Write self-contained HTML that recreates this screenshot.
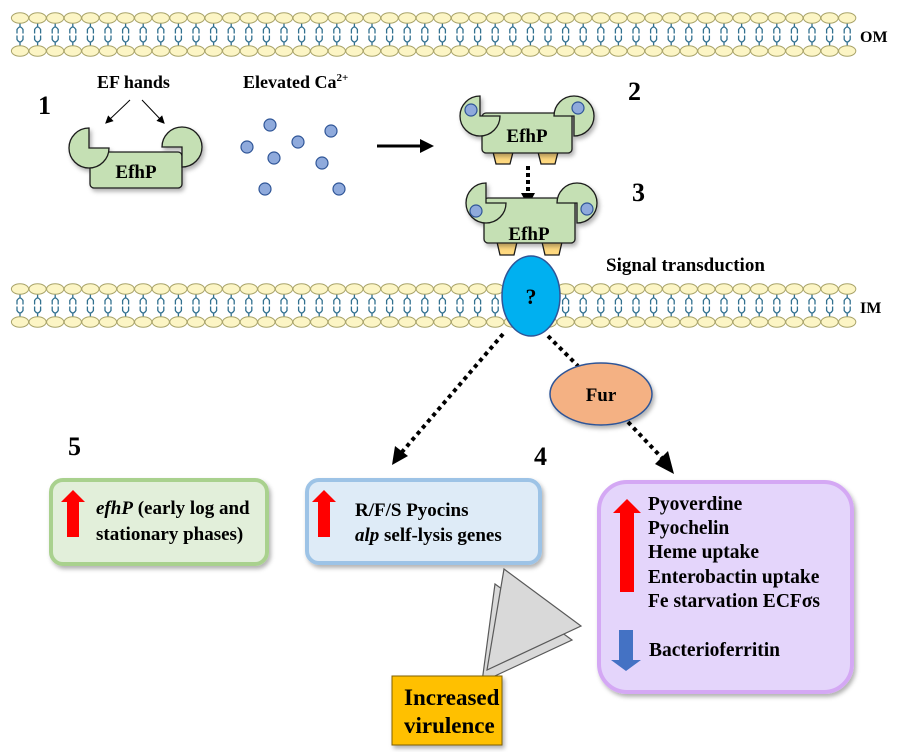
<!DOCTYPE html>
<html><head><meta charset="utf-8"><style>
html,body{margin:0;padding:0;background:#fff;}
svg{display:block;font-family:"Liberation Serif",serif;font-weight:bold;}
</style></head><body>
<svg width="900" height="752" viewBox="0 0 900 752" xmlns="http://www.w3.org/2000/svg">
<defs>
<filter id="sh" x="-10%" y="-10%" width="130%" height="130%"><feDropShadow dx="2" dy="3" stdDeviation="2" flood-color="#000" flood-opacity="0.3"/></filter>
<marker id="ah" markerWidth="8" markerHeight="8" refX="4" refY="4" orient="auto" markerUnits="userSpaceOnUse" viewBox="0 0 8 8"><path d="M0 0 L8 4 L0 8z" fill="#000"/></marker>
</defs>

<g id="heads"></g>
<text x="860" y="42" font-size="16">OM</text>
<text x="860" y="313" font-size="16">IM</text>

<g font-size="26"><text x="38" y="114">1</text><text x="628" y="100">2</text><text x="632" y="201">3</text><text x="534" y="465">4</text><text x="68" y="455">5</text></g>
<text x="97" y="88" font-size="18">EF hands</text>
<text x="243" y="88" font-size="18">Elevated Ca<tspan font-size="11" dy="-7">2+</tspan></text>
<line x1="130" y1="100" x2="108" y2="121" stroke="#000" stroke-width="1" marker-end="url(#ah)"/>
<line x1="142" y1="100" x2="162" y2="121" stroke="#000" stroke-width="1" marker-end="url(#ah)"/>

<g fill="#8faadc" stroke="#2f5597" stroke-width="1.2">
<circle cx="270" cy="125" r="6"/><circle cx="247" cy="147" r="6"/><circle cx="274" cy="158" r="6"/><circle cx="298" cy="142" r="6"/><circle cx="331" cy="131" r="6"/><circle cx="322" cy="163" r="6"/><circle cx="265" cy="189" r="6"/><circle cx="339" cy="189" r="6"/>
</g>
<line x1="377" y1="146" x2="422" y2="146" stroke="#000" stroke-width="3"/>
<path d="M420 139 L434 146 L420 153z" fill="#000"/>

<g stroke="#1a1a1a" stroke-width="1.3" fill="#c5e0b4" filter="url(#sh)">
<rect x="90" y="152" width="92" height="36" rx="4"/>
<path d="M89 148 L89 128 A20 20 0 1 0 109 148 Z"/>
<path d="M182 147 L162 147 A20 20 0 1 1 182 167 Z"/>
</g>
<text x="136" y="178" font-size="19" text-anchor="middle">EfhP</text>

<g stroke="#1a1a1a" stroke-width="1.3">
<path d="M493 152 H513 L510 164 H496Z M538 152 H558 L555 164 H541Z" fill="#ffd97f"/>
</g>
<g stroke="#1a1a1a" stroke-width="1.3" fill="#c5e0b4" filter="url(#sh)">
<rect x="482" y="113" width="90" height="40" rx="4"/>
<path d="M480 116 L480 96 A20 20 0 1 0 500 116 Z"/>
<path d="M574 116 L554 116 A20 20 0 1 1 574 136 Z"/>
</g>
<g fill="#8faadc" stroke="#2f5597" stroke-width="1.2"><circle cx="471" cy="110" r="6"/><circle cx="578" cy="108" r="6"/></g>
<text x="527" y="142" font-size="19" text-anchor="middle">EfhP</text>
<line x1="528" y1="166" x2="528" y2="196" stroke="#000" stroke-width="4" stroke-dasharray="4,3"/>
<path d="M521 193 L535 193 L528 206z" fill="#000"/>

<g stroke="#1a1a1a" stroke-width="1.3">
<path d="M497 242 H517 L514 255 H500Z M542 242 H562 L559 255 H545Z" fill="#ffd97f"/>
</g>
<g stroke="#1a1a1a" stroke-width="1.3" fill="#c5e0b4" filter="url(#sh)">
<rect x="484" y="198" width="91" height="45" rx="4"/>
<path d="M486 203 L486 183 A20 20 0 1 0 506 203 Z"/>
<path d="M577 203 L557 203 A20 20 0 1 1 577 223 Z"/>
</g>
<g fill="#8faadc" stroke="#2f5597" stroke-width="1.2"><circle cx="476" cy="211" r="6"/><circle cx="587" cy="209" r="6"/></g>
<text x="529" y="240" font-size="19" text-anchor="middle">EfhP</text>
<text x="606" y="271" font-size="19">Signal transduction</text>

<ellipse cx="531" cy="296" rx="29" ry="40" fill="#00b0f0" stroke="#2f5597" stroke-width="1.5"/>
<text x="531" y="304" font-size="22" text-anchor="middle">?</text>

<g stroke="#000" stroke-width="4" stroke-dasharray="4,4">
<line x1="503" y1="334" x2="402" y2="452"/>
<line x1="548" y1="336" x2="578" y2="366"/>
<line x1="628" y1="422" x2="662" y2="458"/>
</g>
<path d="M392 465 L395 446 L408 456z" fill="#000"/>
<path d="M674 474 L655 464 L668 451z" fill="#000"/>

<ellipse cx="601" cy="394" rx="51" ry="31" fill="#f4b183" stroke="#2f5597" stroke-width="1.5" filter="url(#sh)"/>
<text x="601" y="401" font-size="19" text-anchor="middle">Fur</text>

<rect x="51" y="480" width="216" height="84" rx="12" fill="#e2efda" stroke="#a9d18e" stroke-width="4" filter="url(#sh)"/>
<path d="M67 537 V502 H61 L73 490 L85 502 H79 V537 Z" fill="#ff0000"/>
<text x="96" y="514" font-size="19"><tspan font-style="italic">efhP</tspan> (early log and</text>
<text x="96" y="540" font-size="19">stationary phases)</text>

<rect x="307" y="480" width="233" height="83" rx="12" fill="#deebf7" stroke="#9dc3e6" stroke-width="4" filter="url(#sh)"/>
<path d="M318 537 V502 H312 L324 490 L336 502 H330 V537 Z" fill="#ff0000"/>
<text x="355" y="516" font-size="19">R/F/S Pyocins</text>
<text x="355" y="541" font-size="19"><tspan font-style="italic">alp</tspan> self-lysis genes</text>

<rect x="599" y="482" width="253" height="210" rx="28" fill="#e4d5fb" stroke="#d4a8f4" stroke-width="4" filter="url(#sh)"/>
<path d="M620 592 V513 H613 L627 499 L641 513 H634 V592 Z" fill="#ff0000"/>
<path d="M619 630 V660 H611 L626 671 L641 660 H633 V630 Z" fill="#4472c4"/>
<g font-size="19.5">
<text x="648" y="510">Pyoverdine</text>
<text x="648" y="534">Pyochelin</text>
<text x="648" y="558">Heme uptake</text>
<text x="648" y="583">Enterobactin uptake</text>
<text x="648" y="607">Fe starvation ECFσs</text>
<text x="649" y="656">Bacterioferritin</text>
</g>

<g fill="#d9d9d9" stroke="#595959" stroke-width="1.2">
<path d="M495 584 L572 640 L482 682 Z"/>
<path d="M504 569 L581 626 L487 670 Z"/>
</g>

<rect x="392" y="676" width="110" height="69" fill="#ffc000" stroke="#7f6000" stroke-width="1" filter="url(#sh)"/>
<text x="404" y="705" font-size="23">Increased</text>
<text x="404" y="733" font-size="23">virulence</text>
</svg>
<script>
(function(){
var ns="http://www.w3.org/2000/svg",g=document.getElementById('heads');
function el(t,a){var e=document.createElementNS(ns,t);for(var k in a)e.setAttribute(k,a[k]);g.appendChild(e);}
function mem(y1,y2){
 var d="";
 for(var x=20;x<856;x+=17.6){
  var m=(y1+y2)/2;
  d+="M"+x+" "+(y1+4)+"V"+(m-8)+" M"+(x-3)+" "+(m-1)+"V"+(m-5)+"Q"+x+" "+(m-10)+" "+(x+3)+" "+(m-5)+"V"+(m-1)+
     " M"+(x-3)+" "+(m+1)+"V"+(m+5)+"Q"+x+" "+(m+10)+" "+(x+3)+" "+(m+5)+"V"+(m+1)+" M"+x+" "+(m+8)+"V"+(y2-4)+" ";
 }
 el('path',{d:d,stroke:'#31708f','stroke-width':1.3,fill:'none'});
 [y1,y2].forEach(function(y){for(var x=20;x<856;x+=17.6)el('ellipse',{cx:x,cy:y,rx:8.6,ry:5.2,fill:'#fcf5c5',stroke:'#a9a46a','stroke-width':1});});
}
mem(18,51);mem(289,322);
})();
</script>
</body></html>
